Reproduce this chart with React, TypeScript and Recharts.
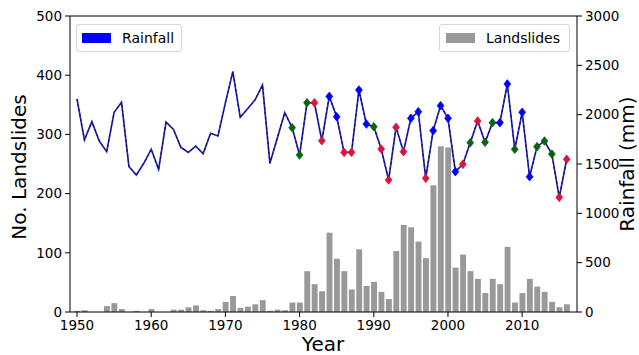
import { Bar, ComposedChart, Line, ReferenceLine, XAxis, YAxis } from 'recharts';

const years = [
  1950, 1951, 1952, 1953, 1954, 1955, 1956, 1957, 1958, 1959,
  1960, 1961, 1962, 1963, 1964, 1965, 1966, 1967, 1968, 1969,
  1970, 1971, 1972, 1973, 1974, 1975, 1976, 1977, 1978, 1979,
  1980, 1981, 1982, 1983, 1984, 1985, 1986, 1987, 1988, 1989,
  1990, 1991, 1992, 1993, 1994, 1995, 1996, 1997, 1998, 1999,
  2000, 2001, 2002, 2003, 2004, 2005, 2006, 2007, 2008, 2009,
  2010, 2011, 2012, 2013, 2014, 2015, 2016,
];

const landslides = [
  2, 3, 0, 0, 10, 15, 5, 0, 2, 0,
  5, 0, 0, 4, 4, 8, 11, 3, 2, 5,
  17, 27, 7, 9, 13, 20, 2, 4, 3, 16,
  16, 69, 47, 35, 134, 90, 69, 38, 106, 44,
  51, 34, 22, 103, 147, 143, 119, 91, 214, 280,
  278, 75, 97, 69, 56, 32, 56, 47, 110, 16,
  32, 56, 43, 34, 17, 8, 13,
];

const rainfall = [
  2159, 1743, 1929, 1733, 1625, 2024, 2125, 1473, 1388, 1507,
  1649, 1446, 1925, 1851, 1669, 1618, 1682, 1605, 1811, 1784,
  2120, 2436, 1973, 2060, 2150, 2300, 1507, 1763, 2020, 1868,
  1591, 2121, 2121, 1736, 2185, 1979, 1618, 1618, 2250, 1905,
  1878, 1652, 1338, 1872, 1625, 1963, 2030, 1355, 1838, 2091,
  1963, 1422, 1497, 1716, 1936, 1720, 1919, 1919, 2311, 1649,
  2024, 1371, 1676, 1733, 1601, 1162, 1548,
];

// marker class per year: b = blue, g = green, r = red, '' = no marker
const markerClass = [
  '', '', '', '', '', '', '', '', '', '',
  '', '', '', '', '', '', '', '', '', '',
  '', '', '', '', '', '', '', '', '', 'g',
  'g', 'g', 'r', 'r', 'b', 'b', 'r', 'r', 'b', 'b',
  'g', 'r', 'r', 'r', 'r', 'b', 'b', 'r', 'b', 'b',
  'b', 'b', 'r', 'g', 'r', 'g', 'g', 'b', 'b', 'g',
  'b', 'b', 'g', 'g', 'g', 'r', 'r',
];

const leftTicks = [0, 100, 200, 300, 400, 500];
const rightTicks = [0, 500, 1000, 1500, 2000, 2500, 3000];

const markerColors: Record<string, string> = { b: '#0000ff', g: '#0a640f', r: '#dc143c' };

const data = years.map((year, i) => ({
  year,
  landslides: landslides[i],
  rainfall: rainfall[i],
  marker: markerClass[i],
}));

const font = 'DejaVu Sans, sans-serif';

const DiamondDot = (props: any) => {
  const { cx, cy, payload, index } = props;
  const color = markerColors[payload?.marker];
  if (!color || cx == null || cy == null) return <g key={`d${index}`} />;
  return (
    <polygon
      key={`d${index}`}
      points={`${cx},${cy - 4.3} ${cx + 3.4},${cy} ${cx},${cy + 4.3} ${cx - 3.4},${cy}`}
      fill={color}
      stroke={color}
      strokeWidth={0.8}
    />
  );
};

const legendBox = {
  position: 'absolute' as const,
  top: 24,
  height: 28,
  border: '1px solid #d6d6d6',
  borderRadius: 3,
  background: 'rgba(255,255,255,0.85)',
  boxSizing: 'border-box' as const,
};

export default function App() {
  return (
    <div style={{ position: 'relative', width: 639, height: 355, fontFamily: font, background: '#fff' }}>
      <style>{'body{margin:0}'}</style>
      <ComposedChart width={639} height={355} data={data} margin={{ top: 16, right: 0, bottom: 0, left: 0 }}>
        <XAxis
          dataKey="year"
          interval={9}
          padding={{ left: 3.3, right: 6.6 }}
          height={43}
          tickSize={5}
          tickMargin={3}
          tick={{ fill: '#000', fontSize: 13.5, fontFamily: font }}
          tickLine={{ stroke: '#000' }}
          axisLine={{ stroke: '#000' }}
        />
        <YAxis
          yAxisId="left"
          domain={[0, 500]}
          ticks={leftTicks}
          width={70}
          tickSize={5}
          tickMargin={3}
          tick={{ fill: '#000', fontSize: 13.5, fontFamily: font }}
          tickLine={{ stroke: '#000' }}
          axisLine={{ stroke: '#000' }}
        />
        <YAxis
          yAxisId="right"
          orientation="right"
          domain={[0, 3000]}
          ticks={rightTicks}
          width={62}
          tickSize={5}
          tickMargin={3}
          tick={{ fill: '#000', fontSize: 13.5, fontFamily: font }}
          tickLine={{ stroke: '#000' }}
          axisLine={{ stroke: '#000' }}
        />
        <ReferenceLine yAxisId="left" y={500} stroke="#000" />
        <Bar yAxisId="left" dataKey="landslides" fill="#999999" barSize={5.9} isAnimationActive={false} />
        <Line
          yAxisId="right"
          dataKey="rainfall"
          type="linear"
          stroke="#2626bb"
          strokeWidth={1.7}
          dot={false}
          activeDot={false}
          isAnimationActive={false}
        />
        <Line
          yAxisId="right"
          dataKey="rainfall"
          type="linear"
          stroke="#0a0a4a"
          strokeWidth={1}
          strokeDasharray="2.5 2.5"
          dot={<DiamondDot />}
          activeDot={false}
          isAnimationActive={false}
        />
      </ComposedChart>

      <div style={{ ...legendBox, left: 76, width: 106 }}>
        <div style={{ position: 'absolute', left: 5, top: 8, width: 29, height: 10, background: '#0000ff' }} />
        <div style={{ position: 'absolute', left: 45, top: 0, lineHeight: '26px', fontSize: 14 }}>Rainfall</div>
      </div>
      <div style={{ ...legendBox, left: 439, width: 131 }}>
        <div style={{ position: 'absolute', left: 6, top: 8, width: 29, height: 10, background: '#999999' }} />
        <div style={{ position: 'absolute', left: 46, top: 0, lineHeight: '26px', fontSize: 14 }}>Landslides</div>
      </div>

      <svg width={639} height={355} style={{ position: 'absolute', left: 0, top: 0, pointerEvents: 'none' }}>
        <text x={0} y={0} transform="translate(323,351)" textAnchor="middle" fontSize={20} fontFamily={font} fill="#000">Year</text>
        <text x={0} y={0} transform="translate(26,167) rotate(-90)" textAnchor="middle" fontSize={20} fontFamily={font} fill="#000">No. Landslides</text>
        <text x={0} y={0} transform="translate(634,164) rotate(-90)" textAnchor="middle" fontSize={20} fontFamily={font} fill="#000">Rainfall (mm)</text>
      </svg>
    </div>
  );
}
